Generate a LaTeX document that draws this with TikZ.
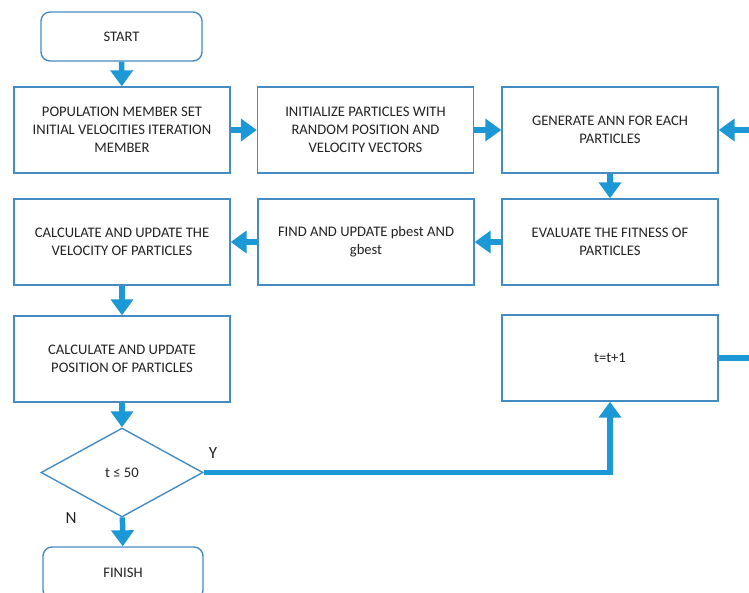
\documentclass[tikz,border=0pt]{standalone}
\usepackage{fontspec}
\setmainfont{Carlito}
\usetikzlibrary{shapes.geometric,arrows.meta}
\definecolor{arrowblue}{RGB}{28,152,214}
\definecolor{boxline}{RGB}{70,140,196}
\definecolor{txt}{RGB}{35,35,35}
\tikzset{
  box/.style={draw=boxline,line width=1.4pt,fill=white,minimum width=216pt,minimum height=86pt,
    align=center,inner sep=2pt,text=txt,font=\fontsize{14.6}{18}\selectfont},
  term/.style={box,rounded corners=9pt,minimum width=161pt,minimum height=49pt},
  decision/.style={draw=boxline,line width=1.4pt,fill=white,diamond,minimum width=162pt,minimum height=89pt,
    inner sep=0pt,text=txt,font=\fontsize{14.6}{18}\selectfont},
  flow/.style={draw=arrowblue,line width=5.5pt,-{Triangle[length=16pt,width=22pt]}},
  lab/.style={text=txt,font=\fontsize{17}{20}\selectfont}
}
\begin{document}
\begin{tikzpicture}[x=1pt,y=1pt]
\useasboundingbox (0,0) rectangle (749,-592);
\clip (0,0) rectangle (749,-592);
\node[term] (start) at (121.5,-36.5) {START};
\node[box] (pop) at (122,-130) {POPULATION MEMBER SET\\INITIAL VELOCITIES ITERATION\\MEMBER};
\node[box] (init) at (365.5,-130) {INITIALIZE PARTICLES WITH\\RANDOM POSITION AND\\VELOCITY VECTORS};
\node[box] (gen) at (610,-130) {GENERATE ANN FOR EACH\\PARTICLES};
\node[box] (vel) at (122,-242) {CALCULATE AND UPDATE THE\\VELOCITY OF PARTICLES};
\node[box] (find) at (366,-242) {FIND AND UPDATE pbest AND\\gbest};
\node[box] (eval) at (610,-242) {EVALUATE THE FITNESS OF\\PARTICLES};
\node[box] (pos) at (122,-359) {CALCULATE AND UPDATE\\POSITION OF PARTICLES};
\node[box] (tinc) at (610,-358) {t=t+1};
\node[decision] (dec) at (122,-472.5) {t ≤ 50};
\node[term,minimum width=160pt,minimum height=52pt] (finish) at (123,-573) {FINISH};
\node[lab] (ylab) at (213,-453) {Y};
\node[lab] (nlab) at (71,-518) {N};
\coordinate (r2) at (762,-130);

\draw[flow] (start) -- (pop);
\draw[flow] (pop) -- (init);
\draw[flow] (init) -- (gen);
\draw[flow] (gen) -- (eval);
\draw[flow] (eval) -- (find);
\draw[flow] (find) -- (vel);
\draw[flow] (vel) -- (pos);
\draw[flow] (pos) -- (dec);
\draw[flow] (dec) -- (finish);
\draw[flow] (dec.east) -| (tinc.south);
\draw[flow] (tinc.east) -| (r2) -- (gen.east);
\end{tikzpicture}
\end{document}
